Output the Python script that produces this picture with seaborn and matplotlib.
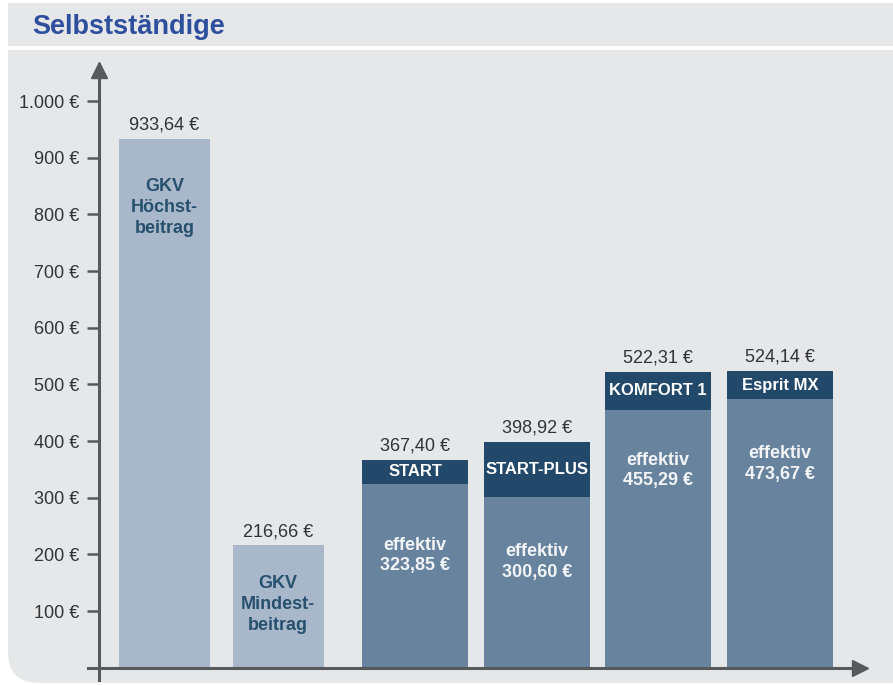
import matplotlib
matplotlib.use("Agg")
import matplotlib.pyplot as plt
import seaborn as sns
import pandas as pd
from matplotlib.patches import Rectangle, FancyBboxPatch

# ---------------- data ----------------
gkv_labels = ["GKV\nHöchst-\nbeitrag", "GKV\nMindest-\nbeitrag"]
gkv_values = [933.64, 216.66]
tarif_names = ["START", "START-PLUS", "KOMFORT 1", "Esprit MX"]
tarif_totals = [367.40, 398.92, 522.31, 524.14]
tarif_effective = [323.85, 300.60, 455.29, 473.67]
y_ticks = [100, 200, 300, 400, 500, 600, 700, 800, 900, 1000]
y_tick_labels = ["100 €", "200 €", "300 €", "400 €", "500 €",
                 "600 €", "700 €", "800 €", "900 €", "1.000 €"]
title = "Selbstständige"

# ---------------- layout / style ----------------
gkv_pos = [164.5, 278]            # horizontal positions (pixel-like units)
tarif_pos = [415, 537, 658, 780]
gkv_label_y = [812, 112]          # label anchor heights inside bars
tarif_label_y = [198, 187, 348, 359]

PANEL = "#e6e7e9"
LIGHT = "#a8b8ca"
MID = "#67839d"
HEAD = "#22486a"
LIGHT_TXT = "#27506e"
AXIS = "#58595b"
TXT = "#333333"
TITLE_C = "#2e4f9e"

def euro(v):
    s = f"{v:,.2f}"
    s = s.replace(",", "X").replace(".", ",").replace("X", ".")
    return s + " €"

sns.set_theme(style="white")
plt.rcParams["font.family"] = ["Liberation Sans", "DejaVu Sans"]
NARROW = ["Liberation Sans Narrow", "Liberation Sans", "DejaVu Sans"]

W, H = 893, 685
fig = plt.figure(figsize=(W / 100, H / 100), dpi=100)
fig.patch.set_facecolor("white")

def px_rect(x0, y0, x1, y1):
    return (x0 / W, 1 - y1 / H, (x1 - x0) / W, (y1 - y0) / H)

# title band
x, y, w, h = px_rect(8, 3, W, 46)
fig.patches.append(Rectangle((x, y), w, h, transform=fig.transFigure,
                             facecolor=PANEL, edgecolor="none", zorder=-5))
# main panel with rounded bottom-left corner
x, y, w, h = px_rect(8, 50, W + 60, H - 2)
fig.patches.append(FancyBboxPatch((x, y), w, h, boxstyle="round,pad=0,rounding_size=0.035",
                                  transform=fig.transFigure, mutation_aspect=W / H,
                                  facecolor=PANEL, edgecolor="none", zorder=-5))
x, y, w, h = px_rect(8, 50, W, 400)
fig.patches.append(Rectangle((x, y), w, h, transform=fig.transFigure,
                             facecolor=PANEL, edgecolor="none", zorder=-5))

fig.text(32 / W, 1 - 27 / H, title, color=TITLE_C, fontsize=19.5, fontweight="bold",
         family=NARROW, va="center", ha="left")

# axes: x in pixel-like units, y in euro
X0, X1 = 88, 858
YB, YT = -22, 1065
bottom_px = 667.7 - 0.5666 * YB
top_px = 667.7 - 0.5666 * YT
ax = fig.add_axes([X0 / W, 1 - bottom_px / H, (X1 - X0) / W, (bottom_px - top_px) / H])
ax.set_facecolor("none")
ax.set_zorder(1)

df_gkv = pd.DataFrame({"pos": gkv_pos, "value": gkv_values})
df_tar = pd.DataFrame({"pos": tarif_pos, "total": tarif_totals, "eff": tarif_effective})

sns.barplot(data=df_gkv, x="pos", y="value", native_scale=True, orient="x",
            width=91 / 113.5, color=LIGHT, saturation=1, linewidth=0,
            errorbar=None, ax=ax, zorder=2)
sns.barplot(data=df_tar, x="pos", y="total", native_scale=True, orient="x",
            width=106 / 121, color=HEAD, saturation=1, linewidth=0,
            errorbar=None, ax=ax, zorder=2)
sns.barplot(data=df_tar, x="pos", y="eff", native_scale=True, orient="x",
            width=106 / 121, color=MID, saturation=1, linewidth=0,
            errorbar=None, ax=ax, zorder=3)

ax.set_xlim(X0, X1)
ax.set_ylim(YB, YT)
ax.set_xlabel("")
ax.set_ylabel("")

for s in ["top", "right"]:
    ax.spines[s].set_visible(False)
ax.spines["left"].set_position(("data", 99))
ax.spines["bottom"].set_position(("data", 0))
for s in ["left", "bottom"]:
    ax.spines[s].set_color(AXIS)
    ax.spines[s].set_linewidth(2.2)
    ax.spines[s].set_zorder(5)

ax.set_yticks(y_ticks)
ax.set_yticklabels(y_tick_labels)
ax.tick_params(axis="y", direction="out", length=9, width=1.8, color=AXIS,
               labelsize=13, labelcolor=TXT, pad=5, left=True)
ax.set_xticks([])

ax.plot([99], [YT - 10], marker="^", markersize=11, color=AXIS, clip_on=False, zorder=6)
ax.plot([X1 + 2], [0], marker=">", markersize=11, color=AXIS, clip_on=False, zorder=6)

for p, v in zip(gkv_pos, gkv_values):
    ax.annotate(euro(v), (p, v), xytext=(0, 3.5), textcoords="offset points",
                ha="center", va="bottom", fontsize=13, color=TXT)
for p, v in zip(tarif_pos, tarif_totals):
    ax.annotate(euro(v), (p, v), xytext=(0, 3.5), textcoords="offset points",
                ha="center", va="bottom", fontsize=13, color=TXT)

for p, lab, ly in zip(gkv_pos, gkv_labels, gkv_label_y):
    ax.text(p, ly, lab, ha="center", va="center", fontsize=13, fontweight="bold",
            color=LIGHT_TXT, family=NARROW, linespacing=1.3, zorder=7)

for p, name, t, e, ly in zip(tarif_pos, tarif_names, tarif_totals, tarif_effective, tarif_label_y):
    ax.text(p, (t + e) / 2, name, ha="center", va="center", fontsize=12,
            fontweight="bold", color="white", family=NARROW, zorder=7)
    ax.text(p, ly, "effektiv\n" + euro(e), ha="center", va="center", fontsize=13,
            fontweight="bold", color="#f2f4f6", family=NARROW, linespacing=1.3, zorder=7)

fig.savefig("out.png", dpi=100, facecolor="white")
